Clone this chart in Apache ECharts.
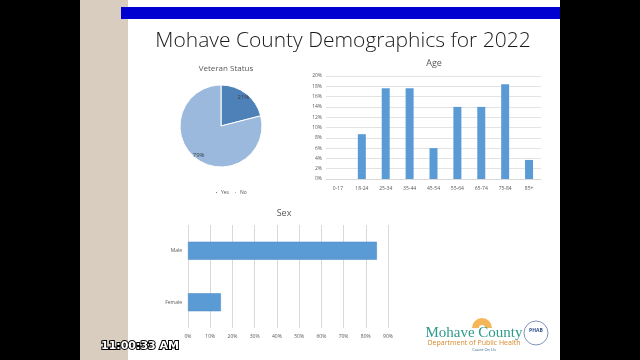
<!DOCTYPE html>
<html>
<head>
<meta charset="utf-8">
<script src="https://cdn.jsdelivr.net/npm/echarts@6/dist/echarts.min.js"></script>
<style>
html,body{margin:0;padding:0;background:#000;}
#chart{width:640px;height:360px;}
</style>
</head>
<body>
<div id="chart"></div>
<script>
// ---- data ----
var mainTitle = 'Mohave County Demographics for 2022';
var vetTitle = 'Veteran Status';
var vetCategories = ['Yes', 'No'];
var vetValues = [21, 79];
var ageTitle = 'Age';
var ageCategories = ['0-17', '18-24', '25-34', '35-44', '45-54', '55-64', '65-74', '75-84', '85+'];
var ageValues = [0, 8.7, 17.6, 17.6, 6.0, 14.0, 14.0, 18.4, 3.7];
var sexTitle = 'Sex';
var sexCategories = ['Female', 'Male'];
var sexValues = [14.8, 85.0];
var timestamp = '11:00:33 AM';

var chart = echarts.init(document.getElementById('chart'), null, {renderer: 'canvas'});
var gray = '#595959';
var font = '"Open Sans", "Liberation Sans", sans-serif';

var option = {
  backgroundColor: '#000000',
  animation: false,
  textStyle: {fontFamily: font},
  graphic: [
    {type: 'rect', shape: {x: 80, y: 0, width: 48, height: 360}, style: {fill: '#d8cdbf'}, z: -10},
    {type: 'rect', shape: {x: 128, y: 0, width: 432, height: 360}, style: {fill: '#ffffff'}, z: -10},
    {type: 'rect', shape: {x: 121, y: 7, width: 439, height: 12}, style: {fill: '#0000d0'}, z: -9},
    {type: 'text', x: 343, y: 41, style: {text: mainTitle, font: '300 21px ' + font, fill: '#1a1a1a', textAlign: 'center', textVerticalAlign: 'middle'}},
    // logo
    {type: 'text', x: 474, y: 333, style: {text: 'Mohave County', font: '15px "Liberation Serif", serif', fill: '#2e9a8a', textAlign: 'center', textVerticalAlign: 'middle'}},
    {type: 'text', x: 474, y: 343, style: {text: 'Department of Public Health', font: '7px ' + font, fill: '#d8892a', textAlign: 'center', textVerticalAlign: 'middle'}},
    {type: 'text', x: 484, y: 350, style: {text: 'Count On Us', font: '4px ' + font, fill: '#2e6a8a', textAlign: 'center', textVerticalAlign: 'middle'}},
    {type: 'sector', shape: {cx: 482, cy: 328, r: 10, r0: 3, startAngle: Math.PI, endAngle: 2 * Math.PI}, style: {fill: '#f2a93b', opacity: 0.85}, z: -1},
    {type: 'circle', shape: {cx: 536, cy: 333, r: 12}, style: {fill: '#ffffff', stroke: '#7f95b8', lineWidth: 1}},
    {type: 'text', x: 536, y: 331, style: {text: 'PHAB', font: 'bold 5px ' + font, fill: '#2b4a8a', textAlign: 'center', textVerticalAlign: 'middle'}},
    {type: 'text', x: 101, y: 346, style: {text: timestamp, font: 'bold 11px "DejaVu Sans", sans-serif', fill: '#ffffff', stroke: '#000000', lineWidth: 2, textVerticalAlign: 'middle'}}
  ],
  title: [
    {text: vetTitle, left: 221, top: 60, textAlign: 'center', textStyle: {fontSize: 8, fontWeight: 'normal', color: gray, fontFamily: font}},
    {text: ageTitle, left: 429, top: 54, textAlign: 'center', textStyle: {fontSize: 9, fontWeight: 'normal', color: gray, fontFamily: font}},
    {text: sexTitle, left: 279, top: 204, textAlign: 'center', textStyle: {fontSize: 9, fontWeight: 'normal', color: gray, fontFamily: font}}
  ],
  legend: {
    data: vetCategories,
    left: 209, top: 185,
    itemWidth: 3, itemHeight: 3, itemGap: 4,
    icon: 'rect',
    textStyle: {fontSize: 5, color: gray, padding: [0, 0, 0, -2]}
  },
  color: ['#4f81b9', '#9ab9dd'],
  grid: [
    {left: 326, right: 99, top: 76, bottom: 181},
    {left: 188, right: 252, top: 225, bottom: 32}
  ],
  xAxis: [
    {type: 'category', gridIndex: 0, data: ageCategories,
     axisLine: {lineStyle: {color: '#d9d9d9'}}, axisTick: {show: false},
     axisLabel: {fontSize: 5, color: gray, margin: 7, interval: 0}},
    {type: 'value', gridIndex: 1, min: 0, max: 90, interval: 10,
     axisLine: {show: false}, axisTick: {show: false},
     splitLine: {lineStyle: {color: '#d9d9d9'}},
     axisLabel: {fontSize: 5, color: gray, margin: 6, formatter: '{value}%'}}
  ],
  yAxis: [
    {type: 'value', gridIndex: 0, min: 0, max: 20, interval: 2,
     axisLine: {show: false}, axisTick: {show: false},
     splitLine: {lineStyle: {color: '#e3e3e3'}},
     axisLabel: {fontSize: 5, color: gray, margin: 4, formatter: '{value}%'}},
    {type: 'category', gridIndex: 1, data: sexCategories,
     axisLine: {show: false}, axisTick: {show: false},
     axisLabel: {fontSize: 5, color: gray, margin: 6}}
  ],
  series: [
    {type: 'pie', name: 'vet', center: [221, 126], radius: 41, startAngle: 90, clockwise: true,
     data: vetCategories.map(function (c, i) { return {name: c, value: vetValues[i]}; }),
     itemStyle: {borderColor: '#ffffff', borderWidth: 1},
     label: {show: false}, labelLine: {show: false}, silent: true},
    {type: 'pie', name: 'vetLabels', center: [221, 126], radius: [26, 41], startAngle: 90, clockwise: true,
     data: vetCategories.map(function (c, i) { return {name: c, value: vetValues[i]}; }),
     itemStyle: {color: 'transparent'},
     label: {show: true, position: 'inside', fontSize: 6, color: '#3a3a3a', formatter: '{c}%', overflow: 'none', rotate: 0, width: 30},
     labelLine: {show: false}, silent: true, legendHoverLink: false},
    {type: 'bar', xAxisIndex: 0, yAxisIndex: 0, data: ageValues, barWidth: 8,
     itemStyle: {color: '#5b9bd5'}},
    {type: 'bar', xAxisIndex: 1, yAxisIndex: 1, data: sexValues, barWidth: 18,
     itemStyle: {color: '#5b9bd5', borderColor: '#4a86c0', borderWidth: 0.5}}
  ]
};
chart.setOption(option);
</script>
</body>
</html>
